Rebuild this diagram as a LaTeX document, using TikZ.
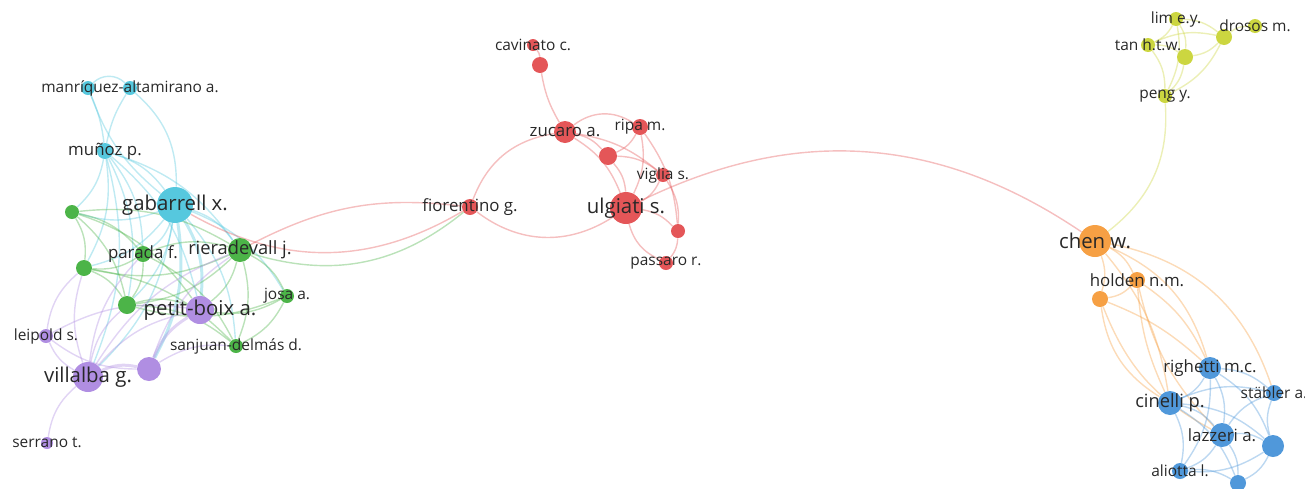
\documentclass[tikz,border=0pt]{standalone}
\usepackage{fontspec}
\setmainfont{Open Sans}
\usepackage{tikz}
\usetikzlibrary{backgrounds}
\usepackage{xcolor}
\definecolor{cCyan}{RGB}{86,200,222}
\definecolor{cGreen}{RGB}{76,180,72}
\definecolor{cPurple}{RGB}{176,142,226}
\definecolor{cRed}{RGB}{228,86,88}
\definecolor{cYellow}{RGB}{204,214,64}
\definecolor{cOrange}{RGB}{246,160,68}
\definecolor{cBlue}{RGB}{80,152,218}
\definecolor{cText}{RGB}{40,40,40}
\tikzset{
  aunode/.style={circle,inner sep=0pt,draw=none},
  cynode/.style={aunode,fill=cCyan,minimum size=#1*0.04cm},
  grnode/.style={aunode,fill=cGreen,minimum size=#1*0.04cm},
  punode/.style={aunode,fill=cPurple,minimum size=#1*0.04cm},
  renode/.style={aunode,fill=cRed,minimum size=#1*0.04cm},
  yenode/.style={aunode,fill=cYellow,minimum size=#1*0.04cm},
  ornode/.style={aunode,fill=cOrange,minimum size=#1*0.04cm},
  blnode/.style={aunode,fill=cBlue,minimum size=#1*0.04cm},
  labbase/.style={text=cText,inner sep=0pt},
  labs/.style={labbase,font=\fontsize{8.8}{10}\selectfont},
  labm/.style={labbase,font=\fontsize{9.6}{11}\selectfont},
  labn/.style={labbase,font=\fontsize{10.4}{12}\selectfont},
  labl/.style={labbase,font=\fontsize{11.6}{13}\selectfont},
  edg/.style={line width=0.8pt,draw opacity=0.38,
              every edge/.append style={bend left=18}},
  ecy/.style={edg,color=cCyan},
  egr/.style={edg,color=cGreen},
  epu/.style={edg,color=cPurple},
  ere/.style={edg,color=cRed},
  eye/.style={edg,color=cYellow},
  eor/.style={edg,color=cOrange},
  ebl/.style={edg,color=cBlue},
  thk/.style={line width=1.7pt},
  bl/.style={bend left=#1}, bl/.default=12,
  br/.style={bend right=#1}, br/.default=12
}
\begin{document}
\begin{tikzpicture}[x=0.02cm,y=0.02cm]
  \useasboundingbox (0,0) rectangle (1305,-488);

  \node[cynode=7] (man1) at (88,-88) {};
  \node[cynode=7] (man2) at (130,-88) {};
  \node[cynode=8] (mun) at (105,-151) {};
  \node[cynode=18] (gab) at (175,-205) {};

  \node[grnode=7] (grn1) at (72,-212) {};
  \node[grnode=8] (par) at (143,-254) {};
  \node[grnode=12] (rie) at (240,-250) {};
  \node[grnode=8] (grn2) at (84,-268) {};
  \node[grnode=9] (grn3) at (127,-305) {};
  \node[grnode=7] (jos) at (287,-296) {};
  \node[grnode=7] (san) at (236,-346) {};

  \node[punode=14] (pet) at (200,-310) {};
  \node[punode=7] (lei) at (46,-336) {};
  \node[punode=15] (vil) at (88,-377) {};
  \node[punode=12] (pur2) at (149,-369) {};
  \node[punode=6] (ser) at (47,-443) {};

  \node[renode=6] (cav) at (533,-45) {};
  \node[renode=8] (red2) at (540,-65) {};
  \node[renode=11] (zuc) at (565,-132) {};
  \node[renode=8] (rip) at (640,-127) {};
  \node[renode=9] (red3) at (608,-156) {};
  \node[renode=7] (vig) at (663,-175) {};
  \node[renode=16] (ulg) at (626,-208) {};
  \node[renode=8] (fio) at (470,-207) {};
  \node[renode=7] (red4) at (678,-231) {};
  \node[renode=7] (pas) at (666,-263) {};

  \node[yenode=7] (lim) at (1176,-19) {};
  \node[yenode=7] (dro) at (1255,-26) {};
  \node[yenode=7] (tan) at (1148,-45) {};
  \node[yenode=8] (yel2) at (1224,-37) {};
  \node[yenode=8] (yel3) at (1185,-57) {};
  \node[yenode=7] (pen) at (1165,-96) {};

  \node[ornode=16] (che) at (1095,-241) {};
  \node[ornode=8] (hol) at (1137,-280) {};
  \node[ornode=8] (ora3) at (1100,-299) {};

  \node[blnode=11] (rig) at (1210,-368) {};
  \node[blnode=8] (sta) at (1274,-393) {};
  \node[blnode=12] (cin) at (1170,-403) {};
  \node[blnode=12] (laz) at (1222,-435) {};
  \node[blnode=11] (blu5) at (1273,-446) {};
  \node[blnode=8] (ali) at (1180,-471) {};
  \node[blnode=8] (blu7) at (1238,-483) {};

  \begin{scope}[on background layer]
    \path[ecy] (man1) edge[bl=45] (man2) edge[bl=8] (mun) edge[br=15] (gab);
    \path[ecy] (man2) edge[br=10] (mun) edge[bl=25] (gab);
    \path[ecy] (mun) edge (gab) edge (rie) edge (pet) edge (grn1) edge (grn2)
               edge (par) edge (grn3) edge (vil);
    \path[ecy] (gab) edge (rie) edge (par) edge (grn1) edge (grn2) edge (grn3)
               edge (jos) edge (san) edge[thk] (pet) edge[thk] (pur2) edge (vil);

    \path[egr] (grn1) edge (par) edge (rie) edge (grn2) edge (grn3) edge (pet);
    \path[egr] (par) edge (rie) edge (grn2) edge (grn3) edge (san);
    \path[egr] (rie) edge (grn2) edge (grn3) edge (jos) edge (san) edge (pet)
               edge[br=28] (fio);
    \path[egr] (grn2) edge (grn3) edge (san);
    \path[egr] (grn3) edge (san) edge (pet);
    \path[egr] (jos) edge (san) edge (pet) edge (grn3);

    \path[epu] (vil) edge[thk] (pur2) edge (pet) edge (lei) edge[br=20] (ser)
               edge (grn2) edge (grn3) edge (par) edge (rie);
    \path[epu] (pur2) edge[thk] (pet) edge (rie) edge (lei) edge (san);
    \path[epu] (lei) edge (pet) edge[bl=20] (grn2);

    \path[ere] (cav) edge (red2);
    \path[ere] (red2) edge[br=10] (zuc);
    \path[ere] (zuc) edge[bl=35] (rip) edge (red3) edge (ulg) edge[bl=15] (vig)
               edge[br=30] (fio);
    \path[ere] (rip) edge (red3) edge (ulg) edge[bl=15] (red4);
    \path[ere] (red3) edge (ulg) edge (vig);
    \path[ere] (vig) edge (ulg) edge (red4);
    \path[ere] (ulg) edge (red4) edge[br=25] (pas) edge[bl=30] (che);
    \path[ere] (red4) edge (pas);
    \path[ere] (fio) edge[br=35] (ulg) edge[br=17] (rie) edge[bl=30] (gab);

    \path[eye] (lim) edge (tan) edge (yel3) edge (yel2) edge (pen);
    \path[eye] (tan) edge (yel3) edge (yel2) edge (pen);
    \path[eye] (yel2) edge (yel3) edge (pen) edge (dro);
    \path[eye] (yel3) edge (pen);
    \path[eye] (pen) edge[bl=28] (che);

    \path[eor] (che) edge (hol) edge (ora3) edge[bl=25] (rig) edge[bl=30] (sta)
               edge[bl=15] (cin);
    \path[eor] (hol) edge (ora3) edge[bl=15] (rig) edge[br=10] (cin) edge[br=15] (laz);
    \path[eor] (ora3) edge[br=25] (cin) edge[bl=10] (rig) edge[br=20] (laz);

    \path[ebl] (rig) edge (cin) edge (laz) edge (sta) edge (blu5) edge (ali);
    \path[ebl] (cin) edge (laz) edge (ali) edge (blu5) edge (blu7) edge (sta);
    \path[ebl] (laz) edge (blu5) edge (ali) edge (blu7) edge (sta);
    \path[ebl] (blu5) edge (sta) edge (blu7) edge (ali);
    \path[ebl] (ali) edge (blu7);
  \end{scope}

  \node[labs] (man2-t) at (man2) {manríquez-altamirano a.};
  \node[labm] (mun-t) at (mun) {muñoz p.};
  \node[labl] (gab-t) at (gab) {gabarrell x.};
  \node[labm] (par-t) at (par) {parada f.};
  \node[labn] (rie-t) at (rie) {rieradevall j.};
  \node[labs] (jos-t) at (jos) {josa a.};
  \node[labs] (san-t) at (san) {sanjuan-delmás d.};
  \node[labl] (pet-t) at (pet) {petit-boix a.};
  \node[labs] (lei-t) at (lei) {leipold s.};
  \node[labl] (vil-t) at (vil) {villalba g.};
  \node[labs] (ser-t) at (ser) {serrano t.};

  \node[labs] (cav-t) at (cav) {cavinato c.};
  \node[labm] (zuc-t) at (zuc) {zucaro a.};
  \node[labs] (rip-t) at (rip) {ripa m.};
  \node[labs] (vig-t) at (vig) {viglia s.};
  \node[labl] (ulg-t) at (ulg) {ulgiati s.};
  \node[labm] (fio-t) at (fio) {fiorentino g.};
  \node[labs] (pas-t) at (pas) {passaro r.};

  \node[labs] (lim-t) at (lim) {lim e.y.};
  \node[labs] (dro-t) at (dro) {drosos m.};
  \node[labs] (tan-t) at (tan) {tan h.t.w.};
  \node[labs] (pen-t) at (pen) {peng y.};

  \node[labl] (che-t) at (che) {chen w.};
  \node[labm] (hol-t) at (hol) {holden n.m.};

  \node[labm] (rig-t) at (rig) {righetti m.c.};
  \node[labs] (sta-t) at (sta) {stäbler a.};
  \node[labn] (cin-t) at (cin) {cinelli p.};
  \node[labm] (laz-t) at (laz) {lazzeri a.};
  \node[labs] (ali-t) at (ali) {aliotta l.};
\end{tikzpicture}
\end{document}
